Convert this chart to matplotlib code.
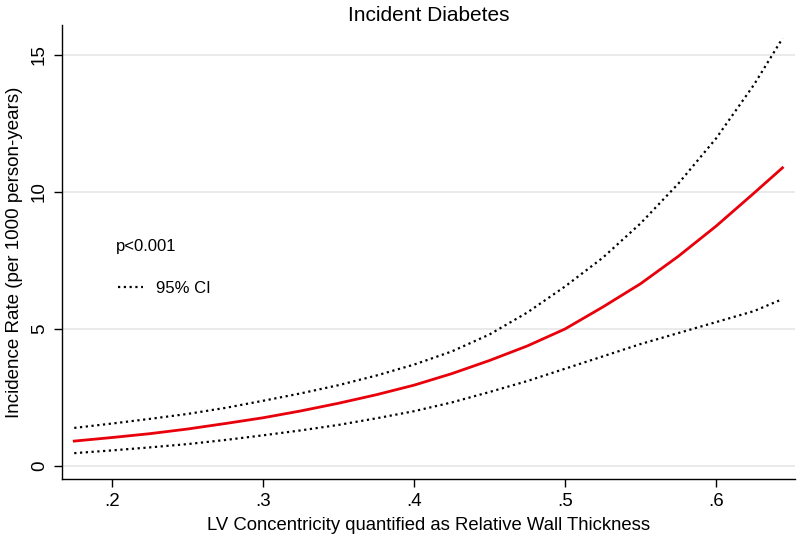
import matplotlib
matplotlib.use('Agg')
import matplotlib.pyplot as plt

plt.rcParams['font.family'] = ['Liberation Sans', 'DejaVu Sans']

# values
rwt = [0.175, 0.2, 0.225, 0.25, 0.275, 0.3, 0.325, 0.35, 0.375, 0.4,
       0.425, 0.45, 0.475, 0.5, 0.525, 0.55, 0.575, 0.6, 0.625, 0.644]
rate = [0.91, 1.04, 1.18, 1.35, 1.55, 1.76, 2.01, 2.29, 2.6, 2.95,
        3.37, 3.85, 4.38, 5.0, 5.8, 6.65, 7.65, 8.75, 9.95, 10.88]
ci_upper = [1.39, 1.55, 1.72, 1.9, 2.12, 2.38, 2.65, 2.95, 3.3, 3.7,
            4.18, 4.8, 5.6, 6.55, 7.6, 8.85, 10.3, 11.95, 13.9, 15.6]
ci_lower = [0.47, 0.57, 0.68, 0.8, 0.95, 1.12, 1.3, 1.5, 1.74, 2.0,
            2.32, 2.7, 3.1, 3.55, 4.0, 4.45, 4.85, 5.25, 5.65, 6.09]

xticks = [0.2, 0.3, 0.4, 0.5, 0.6]
xticklabels = ['.2', '.3', '.4', '.5', '.6']
yticks = [0, 5, 10, 15]

fig = plt.figure(figsize=(7.97, 5.36), dpi=100)
ax = fig.add_axes([0.0778, 0.1063, 0.9197, 0.8471])

dots = (0, (1, 1.6))
ax.plot(rwt, ci_upper, color='black', linestyle=dots, linewidth=1.6)
ax.plot(rwt, ci_lower, color='black', linestyle=dots, linewidth=1.6)
ax.plot(rwt, rate, color='#e8000b', linewidth=2.0)

ax.set_xlim(0.1669, 0.6523)
ax.set_ylim(-0.474, 16.09)
ax.set_xticks(xticks)
ax.set_xticklabels(xticklabels)
ax.set_yticks(yticks)
ax.set_yticklabels([str(v) for v in yticks], rotation=90, va='center')
ax.tick_params(axis='both', labelsize=13.5, length=6, width=1, color='black')
ax.tick_params(axis='x', pad=4)
ax.tick_params(axis='y', pad=4)

ax.grid(axis='y', color='#e6e6e6', linewidth=1.2)
ax.set_axisbelow(True)
for s in ['top', 'right']:
    ax.spines[s].set_visible(False)
for s in ['left', 'bottom']:
    ax.spines[s].set_linewidth(1.0)

ax.set_title('Incident Diabetes', fontsize=15, pad=3)
ax.set_xlabel('LV Concentricity quantified as Relative Wall Thickness', fontsize=13.3, labelpad=5)
ax.set_ylabel('Incidence Rate (per 1000 person-years)', fontsize=13.5, labelpad=6)

ax.text(0.2025, 8.0, 'p<0.001', fontsize=12, va='center', ha='left')
handle = plt.Line2D([], [], color='black', linestyle=dots, linewidth=1.6)
ax.legend([handle], ['95% CI'], loc='center left', bbox_to_anchor=(0.0764, 0.4207),
          frameon=False, fontsize=12, handlelength=1.5, handletextpad=0.8,
          borderpad=0, borderaxespad=0)

fig.savefig('out.png', dpi=100)
